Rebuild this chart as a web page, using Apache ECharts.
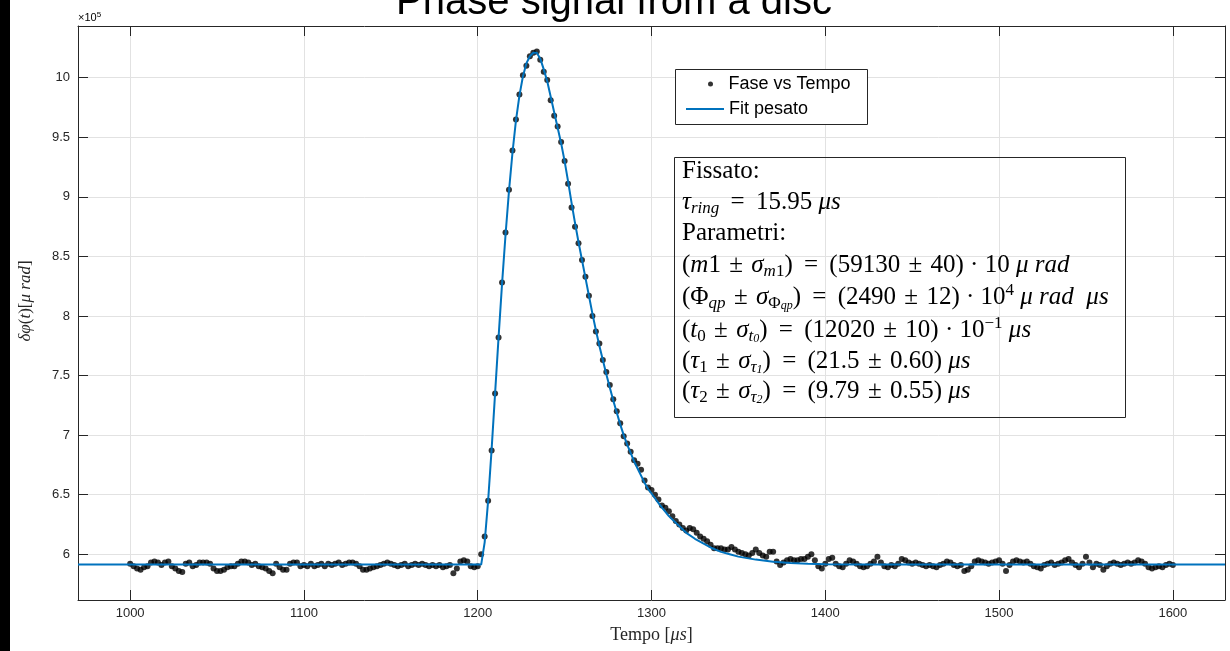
<!DOCTYPE html>
<html><head><meta charset="utf-8">
<script src="https://cdn.jsdelivr.net/npm/echarts@6/dist/echarts.min.js"></script>
<style>html,body{margin:0;padding:0;background:#fff}#c{width:1230px;height:651px}</style>
</head><body><div id="c"></div>
<script>
// ---- data (phase in units of 1e5 micro-rad, time in micro-seconds) ----
const sampleStart = 1000;   // first sample time
const sampleStep = 2;       // sampling period
// 1000 .. 1200
const phaseBefore = [
  5.92,5.90,5.88,5.87,5.89,5.90,5.93,5.94,5.93,5.91,
  5.93,5.94,5.90,5.88,5.86,5.85,5.92,5.93,5.90,5.91,
  5.93,5.93,5.93,5.92,5.88,5.86,5.86,5.87,5.89,5.90,
  5.90,5.92,5.94,5.94,5.93,5.91,5.92,5.90,5.89,5.88,
  5.86,5.84,5.92,5.89,5.87,5.87,5.92,5.93,5.93,5.90,
  5.91,5.90,5.92,5.90,5.91,5.92,5.90,5.92,5.91,5.92,
  5.93,5.91,5.92,5.93,5.93,5.92,5.90,5.87,5.87,5.88,
  5.89,5.90,5.91,5.92,5.93,5.92,5.91,5.90,5.91,5.92,
  5.90,5.91,5.92,5.91,5.92,5.91,5.90,5.91,5.90,5.91,
  5.89,5.90,5.91,5.84,5.88,5.94,5.95,5.94,5.90,5.89,
  5.90
];
// 1202 .. 1406
const phasePulse = [
  6.00,6.15,6.45,6.87,7.35,7.82,8.28,8.70,9.06,9.39,
  9.65,9.86,10.02,10.10,10.18,10.21,10.22,10.15,10.05,9.98,
  9.81,9.68,9.59,9.46,9.30,9.11,8.91,8.75,8.61,8.47,
  8.33,8.17,8.00,7.87,7.77,7.63,7.53,7.42,7.30,7.20,
  7.10,
  6.99,6.93,6.86,6.79,6.76,6.71,6.62,6.56,6.54,6.50,
  6.46,6.41,6.39,6.36,6.32,6.28,6.25,6.22,6.20,6.22,
  6.21,6.18,6.15,6.13,6.11,6.08,6.05,6.05,6.05,6.04,
  6.04,6.06,6.04,6.02,6.01,6.00,5.99,6.01,6.04,6.01,
  5.99,5.98,6.02,6.02,5.94,5.91,5.93,5.95,5.96,5.95,
  5.95,5.96,5.96,5.98,6.00,5.95,5.90,5.88,5.92,5.96,
  5.97,5.92
];
// 1408 .. 1600
const phaseAfter = [
  5.90,5.89,5.92,5.95,5.94,5.92,5.90,5.89,5.90,5.92,
  5.94,5.98,5.93,5.90,5.89,5.91,5.90,5.92,5.96,5.95,
  5.93,5.92,5.93,5.92,5.91,5.90,5.91,5.90,5.89,5.91,
  5.92,5.94,5.93,5.91,5.90,5.91,5.86,5.87,5.90,5.94,
  5.95,5.94,5.93,5.92,5.93,5.94,5.95,5.92,5.86,5.91,
  5.94,5.95,5.94,5.93,5.94,5.92,5.90,5.89,5.88,5.91,
  5.92,5.93,5.91,5.92,5.93,5.95,5.96,5.93,5.91,5.89,
  5.92,5.98,5.93,5.89,5.92,5.91,5.87,5.90,5.92,5.93,
  5.92,5.91,5.92,5.93,5.92,5.93,5.95,5.94,5.92,5.89,
  5.88,5.89,5.90,5.89,5.91,5.92,5.91
];
// weighted fit curve
const fitTime = [970,1202,1204,1206,1208,1210,1212,1214,1216,1218,1220,1222,1224,1226,1228,1230,1232,1234,1236,1238,1240,
  1242,1244,1246,1248,1250,1252,1254,1256,1258,1260,1262,1264,1266,1268,1270,1272,1274,1276,1278,1280,
  1282,1284,1286,1288,1290,1292,1294,1296,1298,1300,1305,1310,1315,1320,1325,1330,1335,1340,1345,1350,
  1360,1370,1380,1390,1400,1420,1450,1630];
const fitValue = [5.913,5.913,6.10,6.45,6.88,7.35,7.82,8.27,8.68,9.05,9.37,9.64,9.85,10.01,10.12,10.18,10.21,10.21,10.16,10.07,9.97,
  9.84,9.71,9.58,9.45,9.30,9.13,8.95,8.78,8.62,8.47,8.32,8.17,8.02,7.88,7.75,7.63,7.51,7.40,7.29,7.19,
  7.09,7.00,6.92,6.85,6.78,6.72,6.66,6.60,6.55,6.51,6.41,6.32,6.25,6.18,6.13,6.09,6.05,6.02,6.00,5.98,
  5.955,5.937,5.927,5.92,5.917,5.915,5.914,5.913];
const xTicks = [1000,1100,1200,1300,1400,1500,1600];
const yTicks = [6,6.5,7,7.5,8,8.5,9,9.5,10];
const seriesNames = ['Fase vs Tempo','Fit pesato'];
const titleText = 'Phase signal from a disc';
const EQ = ' \u2009=\u2009 ', PM = '\u200a ± \u200a';
const infoLines = [
  '{rm|Fissato:}',
  '{it|τ}{sub|ring}{rm|' + EQ + '15.95 }{it|μs}',
  '{rm|Parametri:}',
  '{rm|(}{it|m}{rm|1' + PM + '}{it|σ}{sub|m}{subrm|1}{rm|)' + EQ + '(59130' + PM + '40) · 10 }{it|μ rad}',
  '{rm|(Φ}{sub|qp}{rm|' + PM + '}{it|σ}{subrm|Φ}{subsub|qp}{rm|)' + EQ + '(2490' + PM + '12) · 10}{sup|4}{rm| }{it|μ rad  μs}',
  '{rm|(}{it|t}{subrm|0}{rm|' + PM + '}{it|σ}{sub|t}{subsub|0}{rm|)' + EQ + '(12020' + PM + '10) · 10}{sup|−1}{rm| }{it|μs}',
  '{rm|(}{it|τ}{subrm|1}{rm|' + PM + '}{it|σ}{sub|τ}{subsub|1}{rm|)' + EQ + '(21.5' + PM + '0.60) }{it|μs}',
  '{rm|(}{it|τ}{subrm|2}{rm|' + PM + '}{it|σ}{sub|τ}{subsub|2}{rm|)' + EQ + '(9.79' + PM + '0.55) }{it|μs}'
];

// ---- build ----
const phaseAll = phaseBefore.concat(phasePulse, phaseAfter);
const scatterData = phaseAll.map((v, i) => [sampleStart + i * sampleStep, v]);
const fitData = fitTime.map((t, i) => [t, fitValue[i]]);

const axisColor = '#262626';
const gridColor = '#e2e2e2';
const serif = 'Liberation Serif';
const sans = 'Liberation Sans';
const X_MIN = 970, X_MAX = 1630, Y_MIN = 5.616, Y_MAX = 10.434;

function xAx(pos, main) {
  return {
    type: 'value', min: X_MIN, max: X_MAX, position: pos,
    axisLine: { show: true, onZero: false, lineStyle: { color: axisColor, width: 1 } },
    axisTick: { show: true, inside: true, length: 10, customValues: xTicks, lineStyle: { color: axisColor, width: 1 } },
    axisLabel: { show: main, customValues: xTicks, color: axisColor, fontSize: 13, fontFamily: sans, margin: 7,
      formatter: v => String(v) },
    splitLine: { show: main, lineStyle: { color: gridColor, width: 1 } },
    minorTick: { show: false },
    name: main ? '{rm|Tempo [}{it|μs}{rm|]}' : '',
    nameLocation: 'middle', nameGap: 26,
    nameTextStyle: { rich: {
      rm: { fontFamily: serif, fontSize: 18, color: axisColor },
      it: { fontFamily: serif, fontSize: 18, fontStyle: 'italic', color: axisColor }
    } }
  };
}
function yAx(pos, main) {
  return {
    type: 'value', min: Y_MIN, max: Y_MAX, position: pos,
    axisLine: { show: true, onZero: false, lineStyle: { color: axisColor, width: 1 } },
    axisTick: { show: true, inside: true, length: 10, customValues: yTicks, lineStyle: { color: axisColor, width: 1 } },
    axisLabel: { show: main, customValues: yTicks, color: axisColor, fontSize: 13, fontFamily: sans, margin: 8,
      formatter: v => String(v) },
    splitLine: { show: main, lineStyle: { color: gridColor, width: 1 } },
    name: main ? '{it|δφ}{rm|(}{it|t}{rm|)[}{it|μ rad}{rm|]}' : '',
    nameLocation: 'middle', nameGap: 44,
    nameTextStyle: { padding: [0, 0, 0, 24], rich: {
      rm: { fontFamily: serif, fontSize: 17, color: axisColor },
      it: { fontFamily: serif, fontSize: 17, fontStyle: 'italic', color: axisColor }
    } }
  };
}

const richMath = {
  rm: { fontFamily: serif, fontSize: 25, lineHeight: 30, color: '#000' },
  it: { fontFamily: serif, fontSize: 25, lineHeight: 30, fontStyle: 'italic', color: '#000' },
  sub: { fontFamily: serif, fontSize: 17, lineHeight: 16, fontStyle: 'italic', verticalAlign: 'bottom', color: '#000' },
  subrm: { fontFamily: serif, fontSize: 17, lineHeight: 16, verticalAlign: 'bottom', color: '#000' },
  subsub: { fontFamily: serif, fontSize: 12, lineHeight: 8, fontStyle: 'italic', verticalAlign: 'bottom', color: '#000' },
  sup: { fontFamily: serif, fontSize: 17, lineHeight: 12, verticalAlign: 'top', color: '#000' }
};
const lineCenters = [171, 202, 233, 265, 297, 330, 361, 391];
const infoTexts = infoLines.map((s, i) => ({
  type: 'text', x: 682, y: lineCenters[i], z: 20,
  style: { text: s, rich: richMath, align: 'left', verticalAlign: 'middle' }
}));

const chart = echarts.init(document.getElementById('c'), null, { renderer: 'canvas' });
chart.setOption({
  animation: false,
  backgroundColor: '#fff',
  grid: { left: 78, top: 26, width: 1147, height: 574, show: false },
  xAxis: [xAx('bottom', true), xAx('top', false)],
  yAxis: [yAx('left', true), yAx('right', false)],
  legend: [
    { data: [{ name: seriesNames[0], icon: 'circle' }], left: 708, top: 75, padding: 0, z: 30,
      itemWidth: 26, itemHeight: 5, selectedMode: false,
      textStyle: { fontFamily: sans, fontSize: 18, color: '#000' } },
    { data: [{ name: seriesNames[1], icon: 'path://M0,0 L38,0 L38,2 L0,2 Z' }], left: 686, top: 100, padding: 0, z: 30,
      itemWidth: 38, itemHeight: 14, selectedMode: false,
      textStyle: { fontFamily: sans, fontSize: 18, color: '#000' } }
  ],
  series: [
    { name: seriesNames[0], type: 'scatter', data: scatterData, symbol: 'circle', symbolSize: 6,
      itemStyle: { color: '#000' }, z: 3, xAxisIndex: 0, yAxisIndex: 0 },
    { name: seriesNames[1], type: 'line', data: fitData, showSymbol: false, symbol: 'none',
      lineStyle: { color: '#0072BD', width: 2 }, itemStyle: { color: '#0072BD' }, z: 4,
      xAxisIndex: 0, yAxisIndex: 0 }
  ],
  graphic: [
    { type: 'rect', shape: { x: 0, y: 0, width: 10, height: 651 }, style: { fill: '#000' }, z: 50 },
    { type: 'text', x: 614, y: 3, z: 50,
      style: { text: titleText, fontFamily: sans, fontSize: 40, fill: '#000', align: 'center', verticalAlign: 'middle' } },
    { type: 'text', x: 78, y: 18, z: 50,
      style: { text: '{a|×10}{b|5}', align: 'left', verticalAlign: 'middle',
        rich: { a: { fontFamily: sans, fontSize: 11, lineHeight: 14, color: axisColor },
                b: { fontFamily: sans, fontSize: 8, lineHeight: 8, verticalAlign: 'top', color: axisColor } } } },
    { type: 'rect', shape: { x: 675.5, y: 69.5, width: 192, height: 55 }, z: 25,
      style: { fill: '#fff', stroke: axisColor, lineWidth: 1 } },
    { type: 'rect', shape: { x: 674.5, y: 157.5, width: 451, height: 260 }, z: 19,
      style: { fill: 'rgba(0,0,0,0)', stroke: axisColor, lineWidth: 1 } }
  ].concat(infoTexts)
});
</script>
</body></html>
